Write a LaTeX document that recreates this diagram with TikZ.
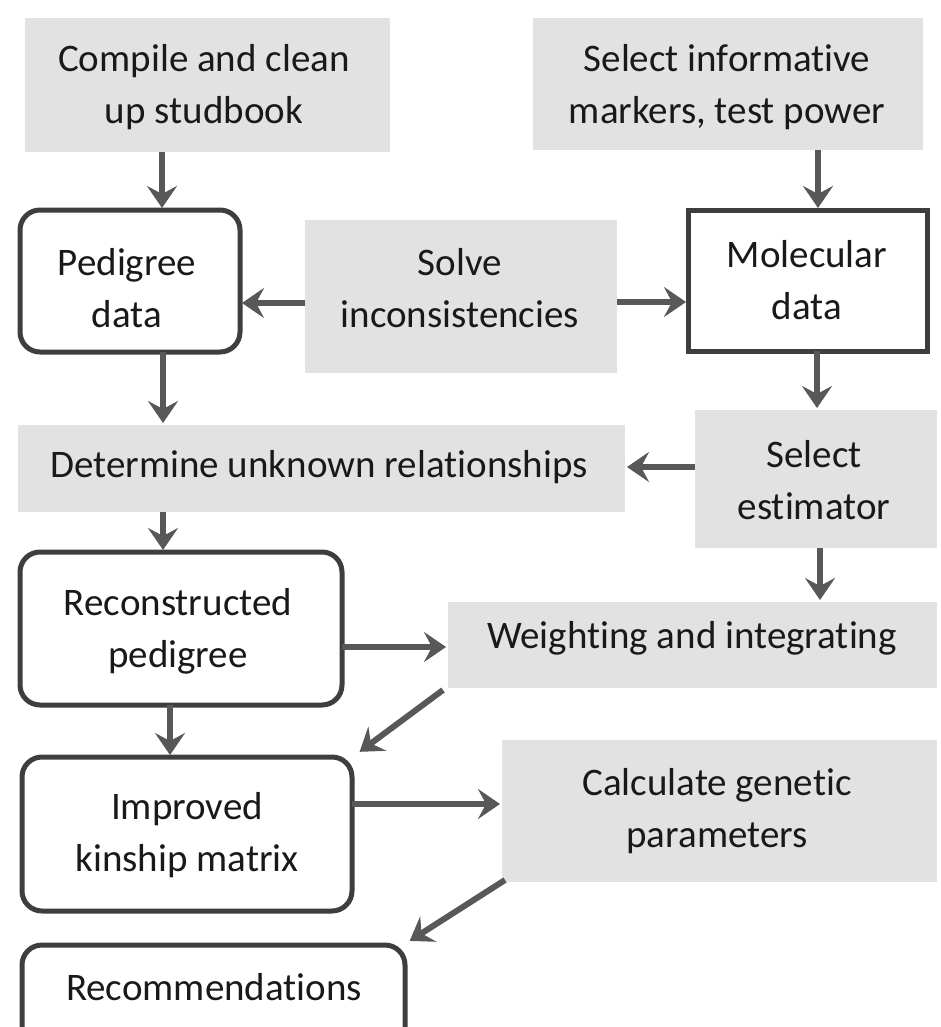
\documentclass[tikz,border=0pt]{standalone}
\usepackage{fontspec}
\setmainfont{Carlito}[Ligatures={NoCommon}]
\usetikzlibrary{arrows.meta}
\definecolor{boxgray}{RGB}{226,226,226}
\definecolor{edge}{RGB}{62,62,62}
\definecolor{arrowc}{RGB}{88,88,88}
\tikzset{
  txt/.style={font=\fontsize{39}{52}\selectfont, align=center, inner sep=0pt, outer sep=0pt, text=black!90},
  graybox/.style={rectangle, fill=boxgray, draw=none, inner sep=0pt, outer sep=0pt},
  whitebox/.style={rectangle, rounded corners=20pt, fill=white, draw=edge, line width=5pt, inner sep=0pt, outer sep=0pt},
  sharpbox/.style={whitebox, rounded corners=0pt},
  arr/.style={draw=arrowc, line width=6pt, shorten >=2pt, -{Stealth[length=22pt, width=30pt, inset=8pt]}},
}
\begin{document}
\begin{tikzpicture}[x=1pt, y=-1pt]
\useasboundingbox (0,0) rectangle (941,1027);
\clip (0,0) rectangle (941,1027);
% gray boxes
\node[graybox, minimum width=365pt, minimum height=134pt] (compile) at (207.5,85) {};
\node[graybox, minimum width=390pt, minimum height=132pt] (markers) at (728,84) {};
\node[graybox, minimum width=312pt, minimum height=153pt] (solve) at (461,296.5) {};
\node[graybox, minimum width=607pt, minimum height=87pt] (determine) at (321.5,468.5) {};
\node[graybox, minimum width=242pt, minimum height=138pt] (estimator) at (816,479) {};
\node[graybox, minimum width=489pt, minimum height=86pt] (weighting) at (692.5,645) {};
\node[graybox, minimum width=435pt, minimum height=142pt] (calculate) at (719.5,811) {};
% outlined boxes
\node[whitebox, minimum width=220pt, minimum height=142pt] (pedigree) at (130,281) {};
\node[sharpbox, minimum width=239pt, minimum height=141pt] (molecular) at (807.5,280.5) {};
\node[whitebox, minimum width=322pt, minimum height=153pt] (reconstructed) at (181,628.5) {};
\node[whitebox, minimum width=330pt, minimum height=154pt] (improved) at (187,834) {};
\node[whitebox, minimum width=383pt, minimum height=155pt] (recommend) at (213.5,1022.5) {};
% texts
\node[txt] (compileT) at (204,87.5) {Compile and clean\strut\\up studbook\strut};
\node[txt] (markersT) at (727,87.5) {Select informative\strut\\markers, test power\strut};
\node[txt] (solveT) at (460,291) {Solve\strut\\inconsistencies\strut};
\node[txt] (determineT) at (319,467) {Determine unknown relationships\strut};
\node[txt] (estimatorT) at (814,483) {Select\strut\\estimator\strut};
\node[txt] (weightingT) at (692,638) {Weighting and integrating\strut};
\node[txt] (calculateT) at (717,811) {Calculate genetic\strut\\parameters\strut};
\node[txt] (pedigreeT) at (127,291) {Pedigree\strut\\data\strut};
\node[txt] (molecularT) at (807,283) {Molecular\strut\\data\strut};
\node[txt] (reconstructedT) at (178,631) {Reconstructed\strut\\pedigree\strut};
\node[txt] (improvedT) at (187,835) {Improved\strut\\kinship matrix\strut};
\node[txt] (recommendT) at (214,990) {Recommendations\strut};
% arrows
\draw[arr] ([xshift=-45.5pt]compile.south) -- ([xshift=-45.5pt]compile.south |- pedigree.north);
\draw[arr] ([xshift=90pt]markers.south) -- ([xshift=90pt]markers.south |- molecular.north);
\draw[arr] ([yshift=-6.5pt]solve.west) -- ([yshift=-6.5pt]solve.west -| pedigree.east);
\draw[arr] ([yshift=-5.5pt]solve.east) -- ([yshift=-5.5pt]solve.east -| molecular.west);
\draw[arr] ([xshift=33pt]pedigree.south) -- ([xshift=33pt]pedigree.south |- determine.north);
\draw[arr] ([xshift=9.5pt]molecular.south) -- ([xshift=9.5pt]molecular.south |- estimator.north);
\draw[arr] ([yshift=12pt]estimator.west) -- ([yshift=12pt]estimator.west -| determine.east);
\draw[arr] ([xshift=-158.5pt]determine.south) -- ([xshift=-158.5pt]determine.south |- reconstructed.north);
\draw[arr] ([xshift=4pt]estimator.south) -- ([xshift=4pt]estimator.south |- weighting.north);
\draw[arr] ([yshift=-18.5pt]reconstructed.east) -- ([yshift=-18.5pt]reconstructed.east -| weighting.west);
\draw[arr] ([xshift=-11pt]reconstructed.south) -- ([xshift=-11pt]reconstructed.south |- improved.north);
\draw[arr] ([xshift=-5pt,yshift=-2pt]weighting.south west) -- ([xshift=6pt,yshift=4pt]improved.north east);
\draw[arr] ([yshift=30pt]improved.east) -- ([yshift=30pt]improved.east -| calculate.west);
\draw[arr] ([xshift=3pt,yshift=2pt]calculate.south west) -- ([xshift=3pt,yshift=3pt]recommend.north east);
\end{tikzpicture}
\end{document}
